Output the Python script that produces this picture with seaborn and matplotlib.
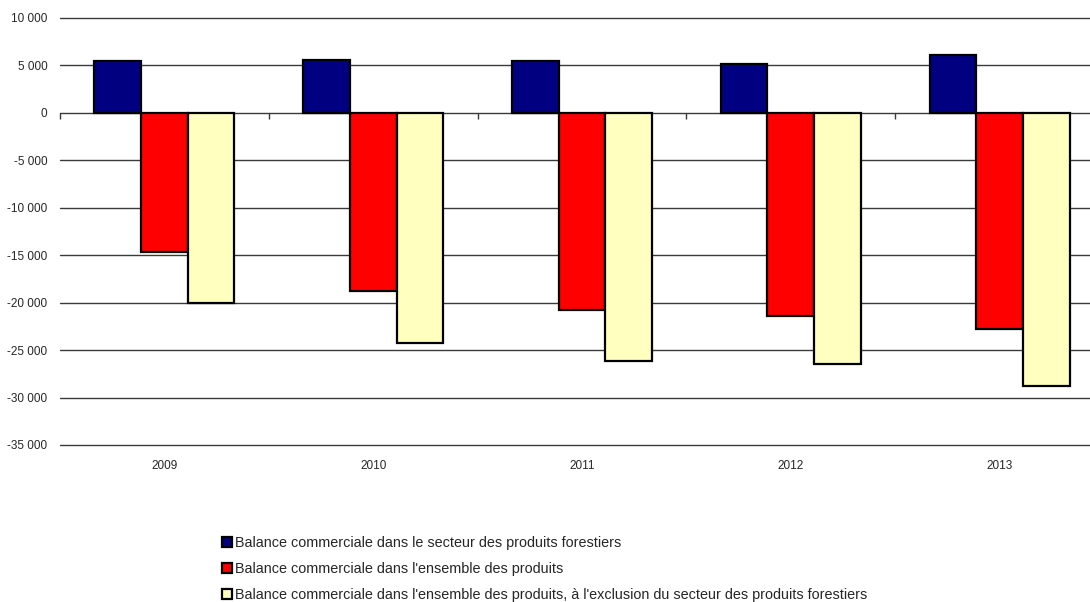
import matplotlib
matplotlib.use("Agg")
import matplotlib.pyplot as plt
import seaborn as sns
import pandas as pd
from matplotlib.ticker import FuncFormatter, FixedLocator

years = ["2009", "2010", "2011", "2012", "2013"]
series_names = [
    "Balance commerciale dans le secteur des produits forestiers",
    "Balance commerciale dans l'ensemble des produits",
    "Balance commerciale dans l'ensemble des produits, à l'exclusion du secteur des produits forestiers",
]
forest = [5450, 5550, 5450, 5150, 6100]
total = [-14650, -18750, -20750, -21400, -22750]
excl_forest = [-20000, -24200, -26150, -26500, -28800]
colors = ["#000080", "#FF0000", "#FFFFC0"]

rows = []
for name, vals in zip(series_names, [forest, total, excl_forest]):
    for y, v in zip(years, vals):
        rows.append({"year": y, "value": v, "series": name})
df = pd.DataFrame(rows)

sns.set_style("white")
plt.rcParams["font.family"] = ["Liberation Sans", "DejaVu Sans"]

fig = plt.figure(figsize=(10.9, 6.02), dpi=100)
ax = fig.add_axes([60 / 1090, 1 - 445 / 602, (1104 - 60) / 1090, (445 - 18) / 602])

sns.barplot(data=df, x="year", y="value", hue="series", palette=colors,
            hue_order=series_names, order=years, width=0.67, saturation=1,
            edgecolor="black", linewidth=1.6, ax=ax, legend=True, zorder=3)

ax.set_ylim(-35000, 10000)
ax.set_xlim(-0.5, 4.5)
ax.set_yticks(range(-35000, 10001, 5000))
ax.yaxis.set_major_formatter(FuncFormatter(lambda v, p: f"{v:,.0f}".replace(",", " ")))
ax.grid(axis="y", color="#3a3a3a", linewidth=1.0, zorder=0)
for gl in ax.get_ygridlines():
    gl.set_clip_on(False)
ax.set_axisbelow(True)
for s in ax.spines.values():
    s.set_visible(False)
ax.tick_params(axis="y", length=0, pad=9, labelsize=8.5)
ax.tick_params(axis="x", length=0, pad=11, labelsize=8.5)
ax.set_xlabel("")
ax.set_ylabel("")

# category boundary ticks on the zero line
sec = ax.secondary_xaxis(35000 / 45000)
sec.xaxis.set_major_locator(FixedLocator([i - 0.5 for i in range(len(years) + 1)]))
sec.tick_params(axis="x", direction="out", length=4, width=1, color="#3a3a3a", labelbottom=False, labeltop=False, top=False, bottom=True)
sec.spines["bottom"].set_visible(False)
sec.spines["top"].set_visible(False)
sec.set_xticklabels([])

handles, labels = ax.get_legend_handles_labels()
ax.get_legend().remove()
fig.legend(handles, labels, loc="upper left", bbox_to_anchor=(222 / 1090, 1 - 536 / 602),
           frameon=False, fontsize=10.4, handlelength=0.7, handleheight=0.7,
           handletextpad=0.2, labelspacing=0.82, borderpad=0, borderaxespad=0)

fig.savefig("out.png", dpi=100)
